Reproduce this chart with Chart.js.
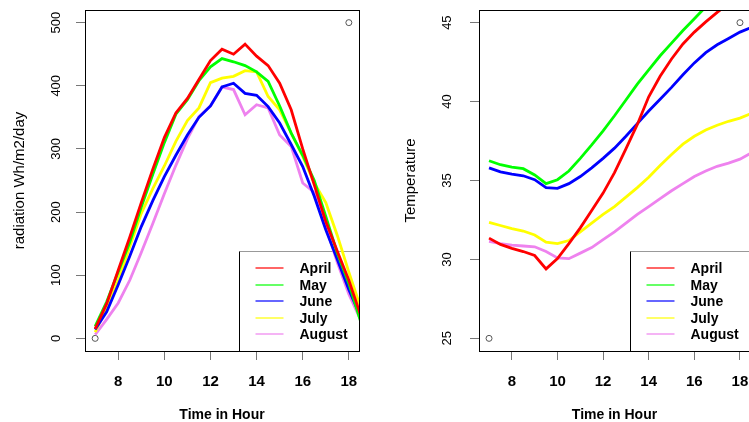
<!DOCTYPE html>
<html>
<head>
<meta charset="utf-8">
<script src="https://cdn.jsdelivr.net/npm/chart.js@4"></script>
<style>
  html, body { margin: 0; padding: 0; background: #fff; overflow: hidden; }
  #wrap { position: relative; width: 749px; height: 422px; overflow: hidden; }
  #radChart { position: absolute; left: 0; top: 0; }
  #tempChart { position: absolute; left: 375px; top: 0; }
</style>
</head>
<body>
<div id="wrap">
  <canvas id="radChart" width="375" height="422"></canvas>
  <canvas id="tempChart" width="380" height="422"></canvas>
</div>
<script>
const hours = [7, 7.5, 8, 8.5, 9, 9.5, 10, 10.5, 11, 11.5, 12, 12.5, 13, 13.5, 14, 14.5, 15, 15.5, 16, 16.5, 17, 17.5, 18, 18.5];
const months = ['April', 'May', 'June', 'July', 'August'];
const monthColors = ['#ff0000', '#00ff00', '#0000ff', '#ffff00', '#ee82ee'];

// radiation, Wh/m2/day
const radApril  = [15, 55, 108, 160, 215, 268, 318, 357, 380, 410, 440, 458, 450, 466, 447, 432, 404, 362, 300, 243, 185, 138, 92, 38];
const radMay    = [19, 58, 105, 152, 208, 260, 310, 355, 378, 408, 430, 443, 438, 432, 422, 407, 368, 325, 290, 250, 193, 135, 87, 28];
const radJune   = [14, 42, 85, 130, 177, 218, 256, 290, 322, 350, 368, 398, 404, 388, 385, 367, 341, 307, 272, 225, 172, 125, 77, 35];
const radJuly   = [10, 48, 92, 145, 198, 237, 273, 312, 345, 365, 405, 412, 415, 424, 422, 383, 362, 325, 288, 246, 215, 163, 105, 50];
const radAugust = [6, 30, 56, 92, 136, 182, 229, 274, 316, 351, 368, 398, 394, 354, 370, 365, 322, 304, 246, 231, 177, 120, 70, 30];

// temperature
const tempApril  = [31.35, 30.95, 30.7, 30.5, 30.25, 29.4, 30.05, 31.0, 32.0, 33.1, 34.2, 35.5, 37.0, 38.55, 40.3, 41.6, 42.7, 43.65, 44.4, 45.05, 45.65, 46.2, 46.7, 47.1];
const tempMay    = [36.25, 36.0, 35.85, 35.75, 35.35, 34.8, 35.05, 35.6, 36.4, 37.25, 38.15, 39.1, 40.1, 41.1, 42.0, 42.9, 43.7, 44.5, 45.25, 46.0, 46.6, 47.2, 47.7, 48.1];
const tempJune   = [35.8, 35.55, 35.4, 35.3, 35.05, 34.55, 34.5, 34.8, 35.25, 35.8, 36.4, 37.05, 37.8, 38.6, 39.4, 40.15, 40.9, 41.7, 42.45, 43.1, 43.6, 44.0, 44.4, 44.7];
const tempJuly   = [32.35, 32.15, 31.95, 31.8, 31.55, 31.1, 31.0, 31.2, 31.75, 32.3, 32.85, 33.35, 33.95, 34.55, 35.2, 35.95, 36.65, 37.3, 37.8, 38.2, 38.5, 38.75, 38.95, 39.25];
const tempAugust = [31.15, 31.0, 30.9, 30.85, 30.8, 30.5, 30.1, 30.05, 30.4, 30.75, 31.25, 31.75, 32.3, 32.85, 33.35, 33.85, 34.35, 34.8, 35.25, 35.6, 35.9, 36.1, 36.35, 36.75];

// the two open circles plotted at the corners
const cornerHours = [7, 18];
const radCorner = [0, 500];
const tempCorner = [25, 45];

const xTicks = [8, 10, 12, 14, 16, 18];
const radTicks = [0, 100, 200, 300, 400, 500];
const tempTicks = [25, 30, 35, 40, 45];

const FONT = '"Liberation Sans", Arial, Helvetica, sans-serif';
Chart.defaults.font.family = FONT;
Chart.defaults.color = '#000';

const toPoints = (xs, ys) => xs.map((x, i) => ({ x: x, y: ys[i] }));

// box round the plot region + legend in the bottom right corner
const frame = {
  id: 'frame',
  beforeDatasetsDraw(chart) {
    const { ctx, chartArea: a } = chart;
    const left = Math.round(a.right - 120) + 0.5;
    const top = Math.round(a.bottom - 100) + 0.5;
    ctx.save();
    ctx.lineWidth = 1;
    ctx.strokeStyle = '#999';
    ctx.beginPath(); ctx.moveTo(left, top); ctx.lineTo(a.right, top); ctx.stroke();
    ctx.strokeStyle = '#000';
    ctx.beginPath(); ctx.moveTo(left, top); ctx.lineTo(left, a.bottom); ctx.stroke();
    ctx.font = 'bold 14px ' + FONT;
    ctx.textBaseline = 'middle';
    months.forEach((m, i) => {
      const y = Math.round(top + 16.5 + i * 16.5);
      ctx.lineWidth = 1.2;
      ctx.strokeStyle = monthColors[i];
      ctx.beginPath(); ctx.moveTo(left + 16, y); ctx.lineTo(left + 44, y); ctx.stroke();
      ctx.fillStyle = '#000';
      ctx.fillText(m, left + 60, y + 1);
    });
    ctx.restore();
  },
  afterDatasetsDraw(chart) {
    const { ctx, chartArea: a } = chart;
    ctx.save();
    ctx.lineWidth = 1;
    ctx.strokeStyle = '#000';
    ctx.strokeRect(Math.round(a.left) + 0.5, Math.round(a.top) + 0.5,
      Math.round(a.right - a.left), Math.round(a.bottom - a.top));
    ctx.restore();
  }
};

function makeChart(id, series, corner, yMin, yMax, yTicks, yTitle, o) {
  const datasets = series.map((s, i) => ({
    label: months[i],
    data: toPoints(hours, s),
    borderColor: monthColors[i],
    borderWidth: 2.8,
    pointRadius: 0,
    tension: 0,
    fill: false
  }));
  datasets.push({
    label: 'corners',
    data: toPoints(cornerHours, corner),
    showLine: false,
    pointRadius: 3,
    pointBorderWidth: 1,
    pointBorderColor: '#555',
    pointBackgroundColor: 'rgba(0,0,0,0)'
  });

  return new Chart(document.getElementById(id), {
    type: 'line',
    data: { datasets: datasets },
    plugins: [frame],
    options: {
      responsive: false,
      animation: false,
      layout: { padding: { left: 0, top: 10, right: o.padRight, bottom: 0 } },
      plugins: { legend: { display: false }, tooltip: { enabled: false } },
      scales: {
        x: {
          type: 'linear',
          min: 6.56,
          max: 18.44,
          afterBuildTicks: s => { s.ticks = xTicks.map(v => ({ value: v })); },
          afterFit: s => { s.height = 71; s.paddingLeft = 0; s.paddingRight = 0; },
          border: { display: false },
          grid: { drawOnChartArea: false, drawTicks: true, tickLength: 9, tickColor: '#777' },
          ticks: { padding: 13, maxRotation: 0, font: { size: 15, weight: 'bold' } },
          title: {
            display: true, text: 'Time in Hour',
            font: { size: 14, weight: 'bold', lineHeight: 0.94 },
            padding: { top: 0, bottom: 0 }
          }
        },
        y: {
          type: 'linear',
          min: yMin,
          max: yMax,
          afterBuildTicks: s => { s.ticks = yTicks.map(v => ({ value: v })); },
          afterFit: s => { s.width = o.yWidth; s.paddingTop = 0; s.paddingBottom = 0; },
          border: { display: false },
          grid: { drawOnChartArea: false, drawTicks: true, tickLength: 9, tickColor: '#777' },
          ticks: { padding: o.tickPad, minRotation: 90, maxRotation: 90, crossAlign: 'center', font: { size: 13 } },
          title: {
            display: true, text: yTitle,
            font: { size: 15 },
            padding: { top: o.titlePad, bottom: 0 }
          }
        }
      }
    }
  });
}

makeChart('radChart',
  [radApril, radMay, radJune, radJuly, radAugust], radCorner,
  -20, 520, radTicks, 'radiation Wh/m2/day',
  { padRight: 16, yWidth: 85, tickPad: 9, titlePad: 11 });

makeChart('tempChart',
  [tempApril, tempMay, tempJune, tempJuly, tempAugust], tempCorner,
  24.2, 45.8, tempTicks, 'Temperature',
  { padRight: 3, yWidth: 104, tickPad: 15, titlePad: 27 });
</script>
</body>
</html>
